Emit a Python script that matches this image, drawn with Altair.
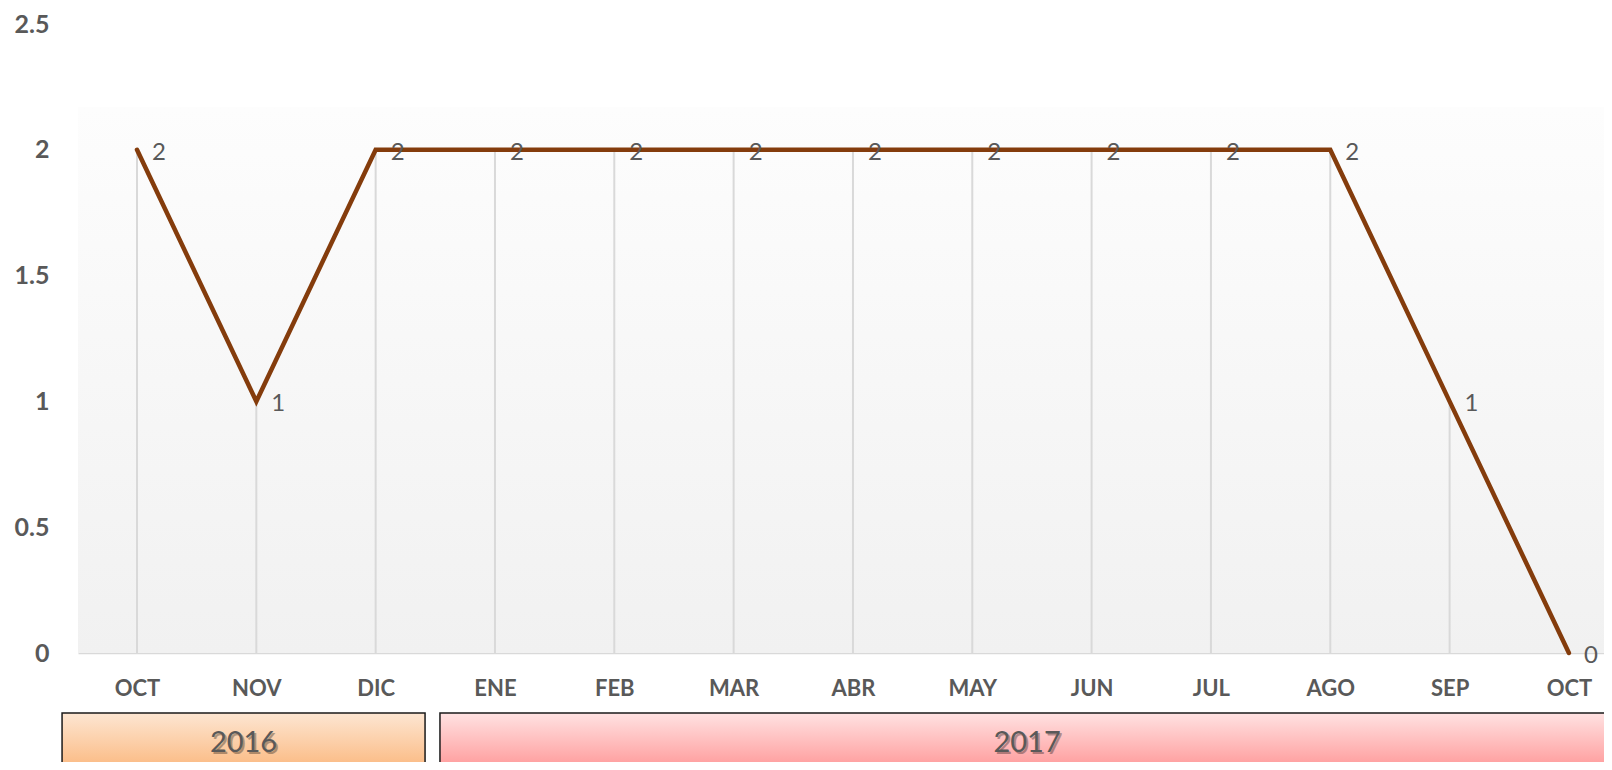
import json
import altair as alt
import pandas as pd

# ---------------- data ----------------
MONTHS = ["OCT", "NOV", "DIC", "ENE", "FEB", "MAR", "ABR", "MAY", "JUN", "JUL", "AGO", "SEP", "OCT"]
VALUES = [2, 1, 2, 2, 2, 2, 2, 2, 2, 2, 2, 1, 0]
YEARS = ["2016", "2017"]
MONTHS_PER_YEAR = [3, 10]
Y_TICKS = [0, 0.5, 1, 1.5, 2, 2.5]

# ---------------- style ----------------
FONT = "Lato"
TEXT_COLOR = "#595959"
LINE_COLOR = "#843C0C"
DROP_COLOR = "#d9d9d9"
BOX_PAD_LEFT = [-0.128, 0.039]
BOX_PAD_RIGHT = [-0.086, 0.2]
BOX_GRADIENTS = [
    ("#fde6d2", "#fbbd88"),
    ("#ffe2e2", "#ffa0a0"),
]

df = pd.DataFrame({"idx": list(range(len(MONTHS))), "month": MONTHS, "value": VALUES})

rows = []
first = 0
for i, (yr, n) in enumerate(zip(YEARS, MONTHS_PER_YEAR)):
    last = first + n - 1
    start = first - 0.5 + BOX_PAD_LEFT[i]
    end = last + 0.5 + BOX_PAD_RIGHT[i]
    rows.append({"year": yr, "start": start, "end": end})
    first = last + 1
boxes = pd.DataFrame(rows)
# label centres (the 2017 box runs past the right edge of the picture)
boxes["mid"] = [(-0.628 + 2.414) / 2, (2.539 + 12.38) / 2]

x_scale = alt.Scale(domain=[-0.4944, 12.294], nice=False, zero=False)
y_scale = alt.Scale(domain=[0, 2.5], nice=False, zero=True)

x_axis = alt.Axis(
    values=list(range(len(MONTHS))),
    labelExpr=json.dumps(MONTHS).replace('"', "'") + "[datum.value]",
    title=None, grid=False, ticks=False, tickSize=0,
    labelPadding=35, labelBaseline="middle",
    labelFont=FONT, labelFontSize=22, labelFontWeight="bold", labelColor=TEXT_COLOR,
    domainColor=DROP_COLOR, domainWidth=1.5, labelOverlap=False, labelFlush=False,
)
y_axis = alt.Axis(
    values=Y_TICKS, labelExpr="'' + datum.value",
    title=None, grid=False, ticks=False, tickSize=0, domain=False,
    labelPadding=29, labelFont=FONT, labelFontSize=25, labelFontWeight="bold",
    labelColor=TEXT_COLOR,
)

bg_grad = {
    "gradient": "linear", "x1": 0, "y1": 0, "x2": 0, "y2": 1,
    "stops": [{"offset": 0, "color": "#fdfdfd"}, {"offset": 1, "color": "#f1f1f1"}],
}
background = alt.Chart(alt.Data(values=[{"a": 1}])).mark_rect(fill=bg_grad).encode(
    x=alt.value(0), x2=alt.value("width"), y=alt.value(83), y2=alt.value("height")
)

base = alt.Chart(df)
X = alt.X("idx:Q", scale=x_scale, axis=x_axis)
Y = alt.Y("value:Q", scale=y_scale, axis=y_axis)

drops = base.mark_rule(color=DROP_COLOR, strokeWidth=2).encode(x=X, y=Y, y2=alt.datum(0))
line = base.mark_line(color=LINE_COLOR, strokeWidth=4.5, strokeCap="round").encode(x=X, y=Y)
labels = base.mark_text(
    align="left", baseline="middle", dx=15, dy=3, font=FONT, fontSize=24, color=TEXT_COLOR
).encode(x=X, y=Y, text="value:Q")

box_layers = []
for i, yr in enumerate(YEARS):
    c0, c1 = BOX_GRADIENTS[i]
    grad = {
        "gradient": "linear", "x1": 0, "y1": 0, "x2": 0, "y2": 1,
        "stops": [{"offset": 0, "color": c0}, {"offset": 1, "color": c1}],
    }
    box_layers.append(
        alt.Chart(boxes[boxes["year"] == yr]).mark_rect(
            fill=grad, stroke="#1a1a1a", strokeWidth=1.5
        ).encode(
            x=alt.X("start:Q", scale=x_scale, axis=x_axis), x2="end:Q",
            y=alt.value(689), y2=alt.value(740),
        )
    )

year_shadow = alt.Chart(boxes).mark_text(
    align="center", baseline="middle", font=FONT, fontSize=29, color="#000000",
    opacity=0.3, dx=2, dy=2,
).encode(x=alt.X("mid:Q", scale=x_scale, axis=x_axis), y=alt.value(719), text="year:N")
year_text = alt.Chart(boxes).mark_text(
    align="center", baseline="middle", font=FONT, fontSize=29, color=TEXT_COLOR,
).encode(x=alt.X("mid:Q", scale=x_scale, axis=x_axis), y=alt.value(719), text="year:N")

chart = alt.layer(
    background, drops, line, labels, *box_layers, year_shadow, year_text
).properties(
    width=1526, height=629,
    padding={"left": 70, "top": 16, "right": 0, "bottom": 109},
    autosize=alt.AutoSizeParams(type="none"),
).configure_view(stroke=None)

chart.save("out.html", embed_options={"renderer": "svg", "actions": False})
